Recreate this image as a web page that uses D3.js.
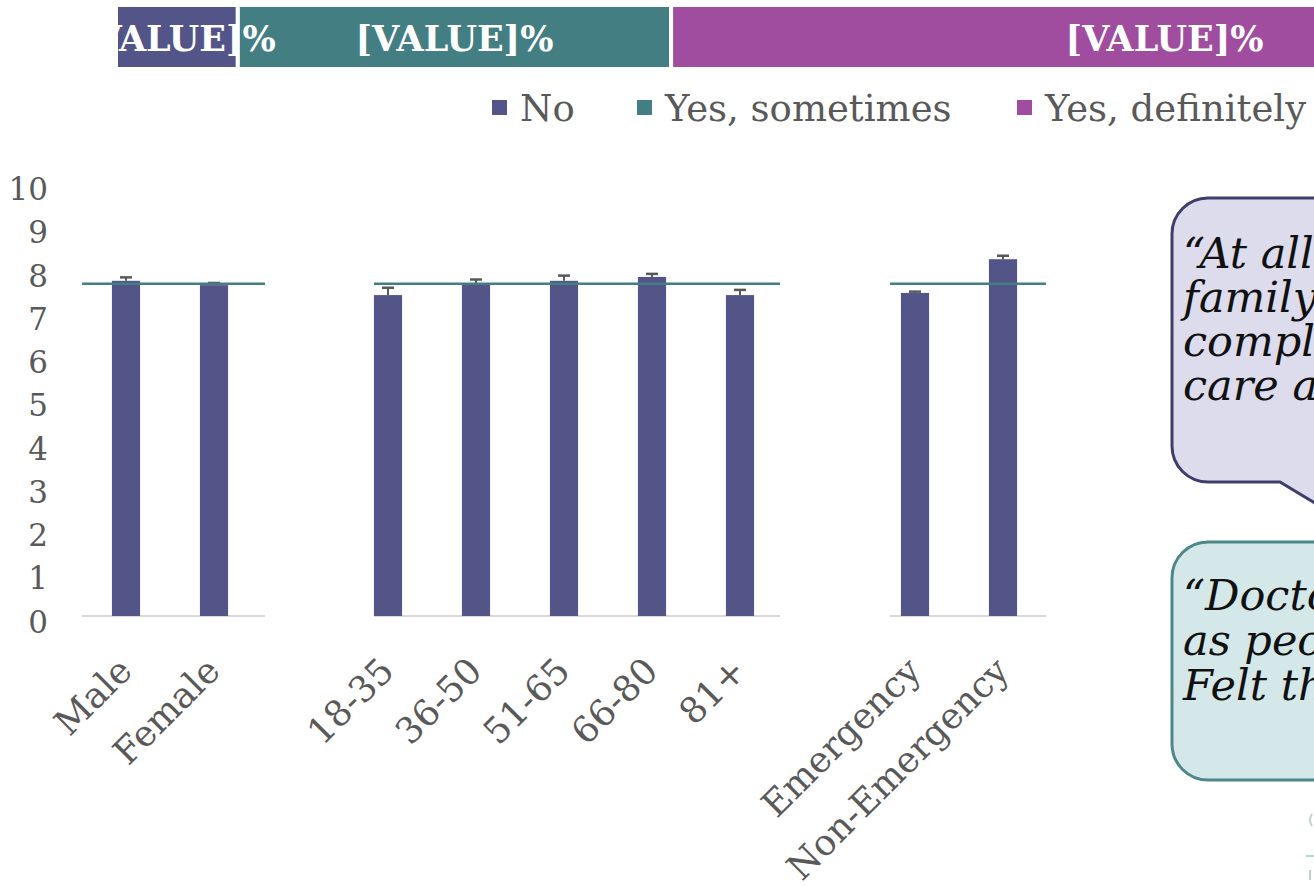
<!DOCTYPE html>
<html>
<head>
<meta charset="utf-8">
<script src="https://cdn.jsdelivr.net/npm/d3@7/dist/d3.min.js"></script>
<style>
  html, body { margin: 0; padding: 0; background: #ffffff; overflow: hidden; }
  svg { display: block; }
</style>
</head>
<body>
<svg id="chart" width="1314" height="886"></svg>
<script>
// ---- data ----
const responseCats = ["No", "Yes, sometimes", "Yes, definitely"];
const responseShares = [7.9, 28.1, 64.0];
const responseLabels = ["[VALUE]%", "[VALUE]%", "[VALUE]%"];

const genderCats = ["Male", "Female"];
const genderScores = [7.75, 7.65];
const genderErr = [0.08, 0.05];

const ageCats = ["18-35", "36-50", "51-65", "66-80", "81+"];
const ageScores = [7.42, 7.67, 7.75, 7.84, 7.42];
const ageErr = [0.17, 0.11, 0.12, 0.07, 0.12];

const admissionCats = ["Emergency", "Non-Emergency"];
const admissionScores = [7.47, 8.25];
const admissionErr = [0.03, 0.08];

const overallMean = 7.68;
const yTicks = [0, 1, 2, 3, 4, 5, 6, 7, 8, 9, 10];

const quote1 = ["\u201CAt all times my", "family were kept", "completely informed,", "care and attention\u201D"];
const quote2 = ["\u201CDoctors treated us", "as people, not cases.", "Felt they listened.\u201D"];

// ---- style ----
const FONT = "Georgia, 'DejaVu Serif', serif";
const C_NO = "#535488", C_SOME = "#437F82", C_DEF = "#A04D9F";
const TXT = "#595959";

const svg = d3.select("#chart");

// ---- stacked response bar ----
const xShare = d3.scaleLinear().domain([0, 100]).range([116, 1658]);
const stackColors = d3.scaleOrdinal().domain(responseCats).range([C_NO, C_SOME, C_DEF]);
let acc = 0;
const segs = responseShares.map((v, i) => { const s = { cat: responseCats[i], x0: acc, x1: acc + v, label: responseLabels[i] }; acc += v; return s; });

const stack = svg.append("g");
stack.selectAll("rect").data(segs).join("rect")
  .attr("x", d => xShare(d.x0)).attr("width", d => xShare(d.x1) - xShare(d.x0))
  .attr("y", 5).attr("height", 64)
  .attr("fill", d => stackColors(d.cat))
  .attr("stroke", "#ffffff").attr("stroke-width", 4);
stack.selectAll("text").data(segs).join("text")
  .attr("x", d => (xShare(d.x0) + xShare(d.x1)) / 2).attr("y", 51)
  .attr("text-anchor", "middle")
  .attr("font-family", FONT).attr("font-weight", "bold").attr("font-size", 35)
  .attr("fill", "#ffffff")
  .text(d => d.label);

// ---- legend ----
const legendX = [492, 637, 1017];
const legend = svg.append("g");
responseCats.forEach((c, i) => {
  legend.append("rect").attr("x", legendX[i]).attr("y", 100).attr("width", 15).attr("height", 15)
    .attr("fill", stackColors(c));
  legend.append("text").attr("x", legendX[i] + 28).attr("y", 121)
    .attr("font-family", FONT).attr("font-size", 37).attr("fill", TXT).text(c);
});

// ---- score panels ----
const y = d3.scaleLinear().domain([0, 10]).range([616, 183.5]);

svg.append("g").attr("transform", "translate(48,0)")
  .call(d3.axisLeft(y).tickValues(yTicks).tickSize(0).tickPadding(0).tickFormat(d3.format("d")))
  .call(g => g.select(".domain").remove())
  .selectAll("text")
  .attr("dy", "0.52em")
  .attr("font-family", FONT).attr("font-size", 31).attr("fill", TXT);

const panels = [
  { cats: genderCats, scores: genderScores, err: genderErr, band: [82, 258], line: [82, 265] },
  { cats: ageCats, scores: ageScores, err: ageErr, band: [344, 784], line: [374, 780] },
  { cats: admissionCats, scores: admissionScores, err: admissionErr, band: [871, 1047], line: [890, 1046] }
];

panels.forEach(p => {
  const x = d3.scaleBand().domain(p.cats).range(p.band).paddingInner(0.68).paddingOuter(0.34);
  const rows = p.cats.map((c, i) => ({ cat: c, v: p.scores[i], e: p.err[i] }));
  const g = svg.append("g");

  // category axis line
  g.append("line").attr("x1", p.line[0]).attr("x2", p.line[1])
    .attr("y1", y(0)).attr("y2", y(0))
    .attr("stroke", "#d9d9d9").attr("stroke-width", 2);

  // bars
  g.selectAll("rect.bar").data(rows).join("rect").attr("class", "bar")
    .attr("x", d => x(d.cat)).attr("width", x.bandwidth())
    .attr("y", d => y(d.v)).attr("height", d => y(0) - y(d.v))
    .attr("fill", C_NO);

  // upper error bars
  const eb = g.selectAll("g.err").data(rows).join("g").attr("class", "err");
  eb.append("line")
    .attr("x1", d => x(d.cat) + x.bandwidth() / 2).attr("x2", d => x(d.cat) + x.bandwidth() / 2)
    .attr("y1", d => y(d.v)).attr("y2", d => y(d.v + d.e))
    .attr("stroke", TXT).attr("stroke-width", 2);
  eb.append("line")
    .attr("x1", d => x(d.cat) + x.bandwidth() / 2 - 6).attr("x2", d => x(d.cat) + x.bandwidth() / 2 + 6)
    .attr("y1", d => y(d.v + d.e)).attr("y2", d => y(d.v + d.e))
    .attr("stroke", TXT).attr("stroke-width", 2.5);

  // overall mean line
  g.append("line").attr("x1", p.line[0]).attr("x2", p.line[1])
    .attr("y1", y(overallMean)).attr("y2", y(overallMean))
    .attr("stroke", C_SOME).attr("stroke-width", 2.5);

  // rotated category labels
  g.selectAll("text.cat").data(rows).join("text").attr("class", "cat")
    .attr("transform", d => `translate(${x(d.cat) + x.bandwidth() / 2 + 8},${y(0) + 57}) rotate(-45)`)
    .attr("text-anchor", "end")
    .attr("font-family", FONT).attr("font-size", 36).attr("fill", TXT)
    .text(d => d.cat);
});

// ---- quote callouts ----
function callout(x0, y0, y1, r, pointer) {
  const p = d3.path();
  p.moveTo(x0 + r, y0);
  p.lineTo(1800, y0);
  p.lineTo(1800, y1);
  if (pointer) {
    p.lineTo(1420, y1);
    p.lineTo(1360, y1 + 48);
    p.lineTo(pointer, y1);
  }
  p.lineTo(x0 + r, y1);
  p.arcTo(x0, y1, x0, y1 - r, r);
  p.lineTo(x0, y0 + r);
  p.arcTo(x0, y0, x0 + r, y0, r);
  p.closePath();
  return p.toString();
}

const q1 = svg.append("g");
q1.append("path").attr("d", callout(1172, 198, 482, 36, 1280))
  .attr("fill", "#DCDCEC").attr("stroke", "#3E3E6A").attr("stroke-width", 3);
q1.selectAll("text").data(quote1).join("text")
  .attr("x", 1183).attr("y", (d, i) => 268 + i * 44)
  .attr("font-family", FONT).attr("font-style", "italic").attr("font-size", 43).attr("fill", "#111111")
  .text(d => d);

const q2 = svg.append("g");
q2.append("path").attr("d", callout(1172, 542, 780, 36, null))
  .attr("fill", "#D5E8E9").attr("stroke", "#4E8789").attr("stroke-width", 3);
q2.selectAll("text").data(quote2).join("text")
  .attr("x", 1183).attr("y", (d, i) => 610 + i * 45)
  .attr("font-family", FONT).attr("font-style", "italic").attr("font-size", 43).attr("fill", "#111111")
  .text(d => d);

// ---- faint corner emblem ----
const emblem = svg.append("g").attr("opacity", 0.35).attr("stroke", C_SOME).attr("fill", "none").attr("stroke-width", 2);
emblem.append("path").attr("d", "M1312,814 q-4,6 0,12");
emblem.append("path").attr("d", "M1306,856 h8");
emblem.append("path").attr("d", "M1310,870 v10");
</script>
</body>
</html>
